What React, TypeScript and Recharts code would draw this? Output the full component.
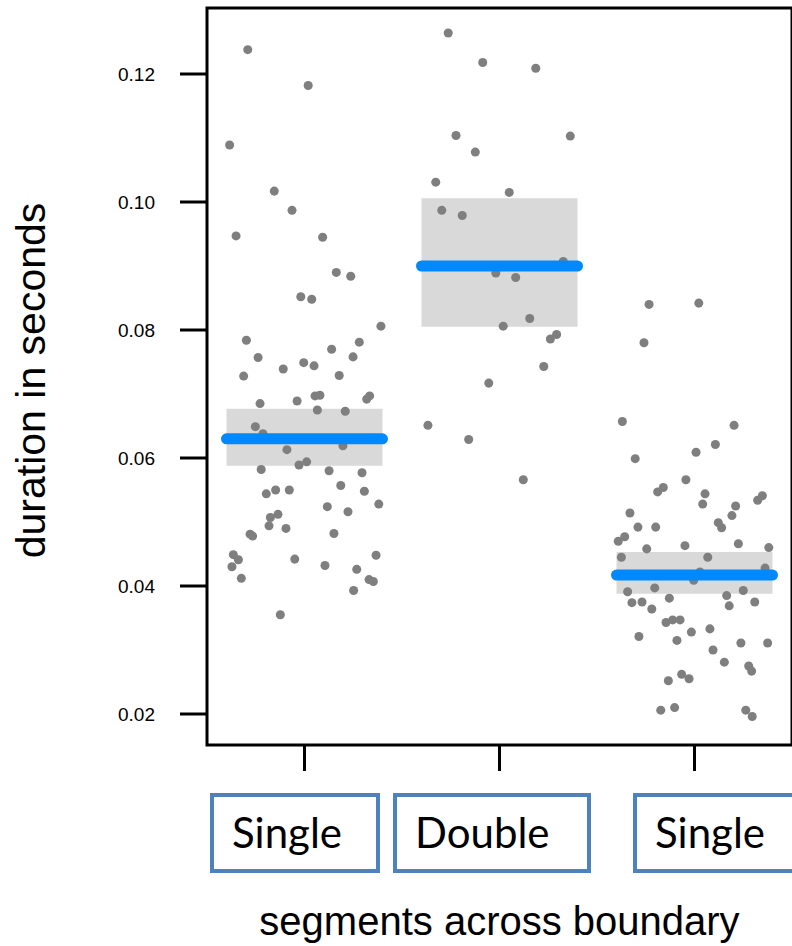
import {
  ComposedChart,
  Scatter,
  XAxis,
  YAxis,
  ReferenceArea,
  ReferenceLine,
  Label,
} from "recharts";

const CATEGORIES = ["Single", "Double", "Single"];
const X_TICKS = [1, 2, 3];
const Y_TICKS = [0.02, 0.04, 0.06, 0.08, 0.1, 0.12];

// jittered positions (category units) and durations
const SINGLE_A_X = [
  0.709, 1.019, 0.616, 0.845, 0.936, 0.649, 1.093, 1.163, 1.237, 0.981, 1.037,
  1.392, 0.702, 1.281, 1.139, 0.762, 1.249, 0.996, 1.049, 0.891, 0.688, 1.178,
  1.054, 1.079, 1.334, 1.319, 0.772, 0.962, 1.066, 1.209, 0.748, 0.787, 1.197,
  0.91, 0.972, 1.011, 0.778, 1.126, 1.295, 1.186, 0.804, 0.852, 0.922, 1.307,
  1.381, 1.117, 1.223, 0.825, 0.864, 0.818, 0.905, 0.721, 0.734, 1.151, 0.635,
  0.661, 0.628, 0.95, 1.367, 1.105, 1.268, 1.331, 1.353, 0.676, 1.252, 0.876,
];
const SINGLE_A_Y = [
  0.1238, 0.1182, 0.1089, 0.1017, 0.0987, 0.0947, 0.0945, 0.089, 0.0884, 0.0852,
  0.0848, 0.0806, 0.0784, 0.0781, 0.077, 0.0757, 0.0758, 0.0749, 0.0744, 0.0739,
  0.0728, 0.0729, 0.0697, 0.0698, 0.0697, 0.0692, 0.0685, 0.0689, 0.0675, 0.0673,
  0.0649, 0.0638, 0.0619, 0.0613, 0.0589, 0.0594, 0.0582, 0.058, 0.0577, 0.0557,
  0.0544, 0.055, 0.055, 0.0548, 0.0528, 0.0524, 0.0516, 0.0507, 0.0512, 0.0494,
  0.049, 0.0481, 0.0478, 0.0482, 0.0449, 0.0441, 0.043, 0.0442, 0.0448, 0.0432,
  0.0426, 0.041, 0.0407, 0.0412, 0.0393, 0.0355,
];

const DOUBLE_X = [
  1.737, 1.914, 2.186, 1.777, 2.363, 1.876, 1.673, 2.05, 1.704, 1.809, 2.327,
  1.981, 2.083, 2.155, 2.019, 2.293, 2.261, 2.227, 1.945, 1.633, 1.842, 2.122,
];
const DOUBLE_Y = [
  0.1264, 0.1218, 0.1209, 0.1104, 0.1103, 0.1078, 0.1031, 0.1015, 0.0987, 0.0979,
  0.0907, 0.0889, 0.0882, 0.0818, 0.0806, 0.0793, 0.0786, 0.0743, 0.0717, 0.0651,
  0.0629, 0.0566,
];

const SINGLE_B_X = [
  2.767, 3.022, 2.741, 2.63, 3.203, 3.107, 3.008, 2.696, 2.956, 2.811, 2.84,
  3.054, 3.042, 3.324, 3.348, 3.211, 3.192, 2.669, 3.122, 3.139, 2.71, 2.801,
  2.609, 2.642, 3.225, 3.381, 2.755, 2.951, 2.625, 3.068, 3.362, 3.028, 2.996,
  2.657, 2.796, 3.25, 3.165, 2.679, 2.731, 2.871, 3.178, 3.309, 2.781, 2.854,
  2.888, 2.926, 3.079, 2.984, 2.715, 2.91, 3.238, 3.375, 3.095, 3.153, 3.278,
  3.293, 2.934, 2.972, 2.866, 2.827, 2.898, 3.263, 3.296,
];
const SINGLE_B_Y = [
  0.084, 0.0842, 0.078, 0.0657, 0.0651, 0.0621, 0.0609, 0.0599, 0.0566, 0.0547,
  0.0554, 0.0544, 0.0528, 0.0534, 0.0541, 0.0525, 0.051, 0.0514, 0.0499, 0.0491,
  0.0492, 0.0492, 0.047, 0.0477, 0.0466, 0.046, 0.0458, 0.0463, 0.0445, 0.0445,
  0.0428, 0.0422, 0.0409, 0.0391, 0.0397, 0.0393, 0.0385, 0.0374, 0.0375, 0.0381,
  0.0369, 0.0375, 0.0364, 0.0343, 0.0347, 0.0347, 0.0333, 0.0328, 0.0321, 0.0315,
  0.0311, 0.0311, 0.03, 0.0281, 0.0275, 0.0267, 0.0262, 0.0255, 0.0252, 0.0206,
  0.021, 0.0206, 0.0196,
];

// group means and interval bounds
const MEANS = [0.063, 0.09, 0.0417];
const CI_LOW = [0.0588, 0.0805, 0.0388];
const CI_HIGH = [0.0677, 0.1006, 0.0453];

const Y_MIN = 0.0151563;
const Y_MAX = 0.1303125;
const HALF = 0.4;

const POINT = "#7f7f7f";
const BAND = "#d9d9d9";
const MEAN = "#0088ff";

// outer left offset from tick and width of each category label box
const LABEL_BOX = [
  { dx: -94.5, w: 170 },
  { dx: -106.5, w: 198 },
  { dx: -61.5, w: 172 },
];

const zip = (xs: number[], ys: number[]) => xs.map((x, i) => ({ x, y: ys[i] }));

function CategoryTick(props: any) {
  const { x, y, payload } = props;
  const i = Math.round(payload.value) - 1;
  const b = LABEL_BOX[i];
  return (
    <g>
      <rect
        x={x + b.dx + 2}
        y={y + 22}
        width={b.w - 4}
        height={76}
        fill="#fff"
        stroke="#4f81bd"
        strokeWidth={4}
      />
      <text
        x={x + b.dx + 22}
        y={y + 75}
        fontFamily="Lato, 'Open Sans', sans-serif"
        fontSize={42}
        fill="#000"
      >
        {CATEGORIES[i]}
      </text>
    </g>
  );
}

export default function App() {
  return (
    <div style={{ position: "absolute", left: 0, top: 0, width: 792, height: 946, background: "#fff" }}>
      <ComposedChart
        width={792}
        height={946}
        margin={{ top: 8, right: 0, bottom: 0, left: 0 }}
      >
        <XAxis
          type="number"
          dataKey="x"
          domain={[0.5, 3.5]}
          ticks={X_TICKS}
          allowDataOverflow
          axisLine={false}
          tickLine={{ stroke: "#000", strokeWidth: 3 }}
          tickSize={26}
          height={201}
          tick={<CategoryTick />}
        >
          <Label
            content={({ viewBox }: any) => (
              <text
                x={viewBox.x + viewBox.width / 2}
                y={viewBox.y + 190}
                textAnchor="middle"
                fontFamily="'Liberation Sans', Arial, sans-serif"
                fontSize={40}
                fill="#000"
              >
                segments across boundary
              </text>
            )}
          />
        </XAxis>
        <YAxis
          type="number"
          dataKey="y"
          domain={[Y_MIN, Y_MAX]}
          ticks={Y_TICKS}
          allowDataOverflow
          width={207}
          axisLine={false}
          tickLine={{ stroke: "#000", strokeWidth: 3 }}
          tickSize={27}
          tickMargin={25}
          tickFormatter={(v: number) => v.toFixed(2)}
          tick={{ fontFamily: "'Liberation Sans', Arial, sans-serif", fontSize: 19, fill: "#000" }}
        >
          <Label
            content={({ viewBox }: any) => {
              const cx = viewBox.x + 45;
              const cy = viewBox.y + viewBox.height / 2 + 4;
              return (
                <text
                  x={cx}
                  y={cy}
                  textAnchor="middle"
                  transform={`rotate(-90, ${cx}, ${cy})`}
                  fontFamily="'Liberation Sans', Arial, sans-serif"
                  fontSize={41}
                  fill="#000"
                >
                  duration in seconds
                </text>
              );
            }}
          />
        </YAxis>

        {MEANS.map((m, i) => (
          <ReferenceArea
            key={"band" + i}
            x1={X_TICKS[i] - HALF}
            x2={X_TICKS[i] + HALF}
            y1={CI_LOW[i]}
            y2={CI_HIGH[i]}
            fill={BAND}
            fillOpacity={1}
            stroke="none"
          />
        ))}

        <Scatter data={zip(SINGLE_A_X, SINGLE_A_Y)} fill={POINT} isAnimationActive={false} />
        <Scatter data={zip(DOUBLE_X, DOUBLE_Y)} fill={POINT} isAnimationActive={false} />
        <Scatter data={zip(SINGLE_B_X, SINGLE_B_Y)} fill={POINT} isAnimationActive={false} />

        {MEANS.map((m, i) => (
          <ReferenceLine
            key={"mean" + i}
            segment={[
              { x: X_TICKS[i] - HALF, y: m },
              { x: X_TICKS[i] + HALF, y: m },
            ]}
            stroke={MEAN}
            strokeWidth={11}
            strokeLinecap="round"
            zIndex={900}
          />
        ))}

        <ReferenceArea
          x1={0.5}
          x2={3.5}
          y1={Y_MIN}
          y2={Y_MAX}
          fill="none"
          stroke="#000"
          strokeWidth={3}
          zIndex={1000}
        />
      </ComposedChart>
    </div>
  );
}
